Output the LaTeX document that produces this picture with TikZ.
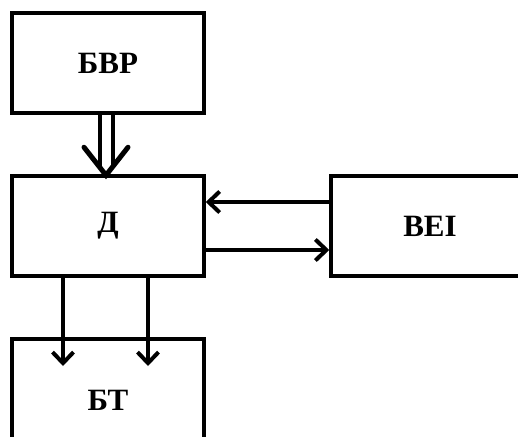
\documentclass[tikz,border=0pt]{standalone}
\usepackage{fontspec}
\setmainfont{Liberation Serif}
\usetikzlibrary{arrows.meta}
\begin{document}
\begin{tikzpicture}[x=1pt,y=-1pt,
  box/.style={draw, line width=3.5pt, rectangle, inner sep=0pt, font=\fontsize{31}{33}\selectfont\bfseries},
  arr/.style={line width=4pt, -{Straight Barb[length=11pt,width=21pt]}}]
\useasboundingbox (0,0) rectangle (518,436);
\clip (0,0) rectangle (518,436);
\node[box, minimum width=192pt, minimum height=100pt] (bvr) at (108,63) {БВР};
\node[box, minimum width=192pt, minimum height=100pt] (d) at (108,226) {Д};
\node[box, minimum width=198pt, minimum height=100pt] (bei) at (430,226) {BEI};
\node[box, minimum width=192pt, minimum height=122pt] (bt) at (108,400) {БТ};
% double arrow
\draw[line width=4.5pt, double distance=8.5pt] ([xshift=-1.5pt]bvr.south) -- ([xshift=-1.5pt,yshift=8pt]d.north);
\draw[line width=5pt, line cap=round, line join=miter] ([shift={(-24pt,27pt)}]d.north) -- ([xshift=-2pt,yshift=-1pt]d.north) -- ([shift={(20pt,27pt)}]d.north);
% horizontal arrows
\draw[arr] ([yshift=24pt]bei.west) -- ([yshift=24pt]d.east);
\draw[arr] ([yshift=-24pt]d.east) -- ([yshift=-24pt]bei.west);
% down arrows
\coordinate (t1) at (63,366);
\coordinate (t2) at (148,366);
\draw[arr] (d.south -| t1) -- (t1);
\draw[arr] (d.south -| t2) -- (t2);
\end{tikzpicture}
\end{document}
